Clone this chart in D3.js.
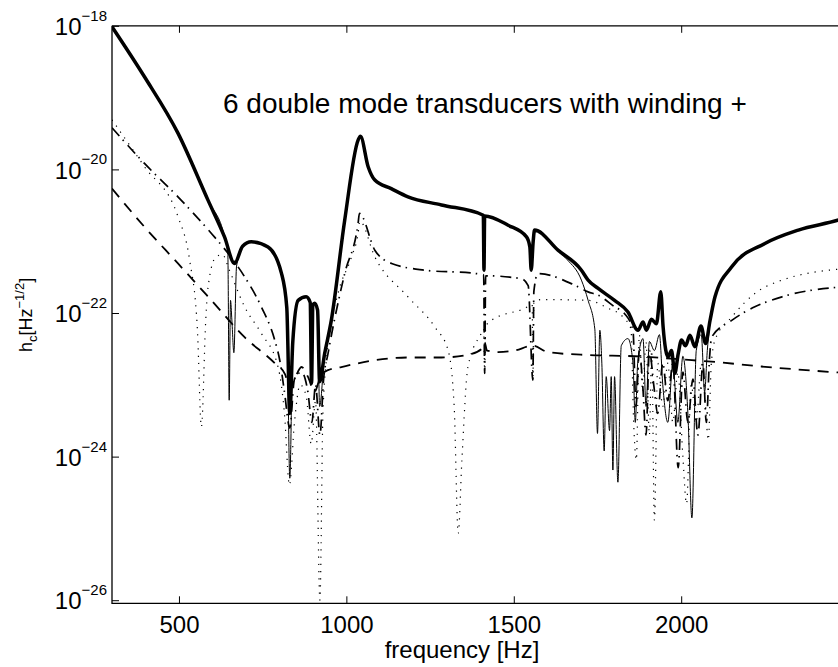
<!DOCTYPE html>
<html>
<head>
<meta charset="utf-8">
<script src="https://cdn.jsdelivr.net/npm/d3@7/dist/d3.min.js"></script>
<style>
  body { margin: 0; background: #fff; }
  svg text { font-family: "Liberation Sans", Arial, Helvetica, sans-serif; fill: #000; }
</style>
</head>
<body>
<script>
// thick solid: total
var totalF = [300, 397, 497, 587, 636, 666, 690, 716, 766, 806, 822, 831, 840, 856, 880, 892, 896, 900, 905, 914, 920, 935, 955, 995, 1035, 1042, 1065, 1085, 1134, 1184, 1284, 1409, 1411, 1413, 1483, 1538, 1548, 1552, 1558, 1562, 1632, 1702, 1722, 1752, 1801, 1841, 1871, 1886, 1896, 1911, 1926, 1939, 1946, 1961, 1971, 1981, 1991, 2001, 2013, 2026, 2041, 2059, 2073, 2086, 2101, 2151, 2250, 2350, 2474, 2500];
var totalV = [9.7e-19, 1.95e-19, 3.2e-20, 3.7e-21, 1.15e-21, 4.9e-22, 8.5e-22, 9.8e-22, 8.3e-22, 3.6e-22, 1.2e-22, 4e-24, 4e-23, 1.5e-22, 1.68e-22, 1.4e-22, 1.05e-23, 1.3e-22, 1.37e-22, 1.1e-22, 1.1e-23, 2.7e-23, 7.9e-23, 1.96e-21, 2.56e-20, 2.9e-20, 1.09e-20, 7.1e-21, 5.4e-21, 4.15e-21, 3.2e-21, 2.3e-21, 3.95e-22, 2.25e-21, 1.67e-21, 1.15e-21, 8.3e-22, 3.95e-22, 1.0e-21, 1.43e-21, 7.5e-22, 3.95e-22, 2.87e-22, 2.2e-22, 1.5e-22, 1.03e-22, 5.75e-23, 7.5e-23, 5.75e-23, 8.2e-23, 7.1e-23, 1.97e-22, 6.4e-23, 2.45e-23, 3.0e-23, 1.44e-23, 2.7e-23, 4.2e-23, 3.5e-23, 4.9e-23, 3.4e-23, 6.6e-23, 3.75e-23, 7.8e-23, 1.68e-22, 4.4e-22, 9.3e-22, 1.43e-21, 2.0e-21, 2.2e-21];

// thin solid
var thinF = [300, 397, 497, 587, 636, 646, 650, 654, 658, 664, 672, 690, 716, 766, 806, 822, 831, 840, 856, 880, 892, 896, 900, 905, 914, 920, 935, 955, 995, 1035, 1042, 1065, 1085, 1134, 1184, 1284, 1409, 1411, 1413, 1483, 1538, 1548, 1552, 1558, 1562, 1632, 1660, 1702, 1722, 1742, 1750, 1757, 1763, 1770, 1776, 1786, 1791, 1796, 1801, 1811, 1821, 1841, 1856, 1863, 1870, 1886, 1895, 1905, 1920, 1935, 1945, 1960, 1975, 1990, 2005, 2020, 2032, 2045, 2060, 2070, 2078, 2090, 2101, 2151, 2250, 2350, 2474, 2500];
var thinV = [9.7e-19, 1.95e-19, 3.2e-20, 3.7e-21, 1.15e-21, 6.5e-22, 6.1e-24, 1.5e-22, 8e-23, 2.8e-23, 4.5e-22, 8.3e-22, 9.8e-22, 8.3e-22, 3.6e-22, 1.2e-22, 5e-25, 4e-23, 1.5e-22, 1.68e-22, 1.4e-22, 1e-23, 1.3e-22, 1.37e-22, 1.1e-22, 5e-24, 2.7e-23, 7.9e-23, 1.96e-21, 2.56e-20, 2.9e-20, 1.09e-20, 7.1e-21, 5.4e-21, 4.15e-21, 3.2e-21, 2.3e-21, 3.95e-22, 2.25e-21, 1.67e-21, 1.15e-21, 8.3e-22, 3.95e-22, 1.0e-21, 1.43e-21, 7.3e-22, 5.5e-22, 2.87e-22, 1.5e-22, 6e-23, 2.1e-24, 5.75e-23, 2e-23, 1.2e-24, 1.3e-23, 2.3e-24, 1.3e-23, 6.5e-25, 1.3e-23, 4.4e-25, 3.5e-23, 4.4e-23, 2e-23, 3e-24, 2e-23, 4.4e-23, 5e-24, 4e-23, 3e-23, 5e-23, 1e-23, 3e-24, 2e-23, 3e-24, 2.5e-23, 4e-24, 1.4e-25, 3e-23, 5e-23, 8e-24, 3e-23, 1e-22, 1.68e-22, 4.4e-22, 9.3e-22, 1.43e-21, 2.0e-21, 2.2e-21];

// dashed
var dashF = [300, 397, 497, 597, 696, 786, 817, 830, 845, 866, 885, 905, 925, 945, 985, 1085, 1184, 1284, 1374, 1405, 1413, 1420, 1453, 1502, 1557, 1602, 1722, 1861, 2032, 2091, 2239, 2500];
var dashV = [5.4e-21, 1.58e-21, 4.9e-22, 1.5e-22, 4.6e-23, 2.0e-23, 1.4e-23, 9e-24, 1.2e-23, 1.77e-23, 1.3e-23, 8e-24, 1.4e-23, 1.6e-23, 1.77e-23, 2.2e-23, 2.4e-23, 2.4e-23, 2.7e-23, 3.2e-23, 3.9e-23, 3.0e-23, 2.85e-23, 3.0e-23, 3.5e-23, 2.85e-23, 2.6e-23, 2.5e-23, 2.2e-23, 2.1e-23, 1.8e-23, 1.45e-23];

// dash-dot
var dashDotF = [300, 397, 497, 597, 647, 696, 746, 786, 801, 815, 831, 845, 866, 885, 897, 908, 921, 932, 945, 995, 1035, 1039, 1085, 1135, 1234, 1383, 1410, 1413, 1416, 1523, 1543, 1557, 1560, 1572, 1682, 1722, 1752, 1801, 1831, 1856, 1865, 1875, 1885, 1895, 1905, 1918, 1930, 1945, 1960, 1975, 1991, 2005, 2020, 2035, 2050, 2065, 2075, 2085, 2091, 2151, 2220, 2301, 2500];
var dashDotV = [3.8e-20, 1.21e-20, 4.15e-21, 1.28e-21, 6.75e-22, 3.2e-22, 1.22e-22, 4.2e-23, 2.2e-23, 8e-24, 2.5e-24, 1.2e-23, 1.5e-23, 8e-24, 3e-24, 1e-23, 2e-24, 1.2e-23, 2.7e-23, 3.55e-22, 1.77e-21, 2.44e-21, 7.5e-22, 4.9e-22, 3.95e-22, 3.56e-22, 3.4e-22, 1.44e-23, 3.3e-22, 3.0e-22, 2.4e-22, 1.16e-23, 2e-22, 3.55e-22, 2.44e-22, 1.97e-22, 1.77e-22, 1.22e-22, 9.8e-23, 5.75e-23, 5e-24, 3e-23, 1e-23, 2e-24, 3e-23, 1e-23, 4e-24, 2e-23, 6e-24, 2e-23, 7e-25, 1.5e-23, 3e-24, 1.2e-23, 2e-24, 2e-23, 3e-24, 2.5e-23, 4.6e-23, 7.9e-23, 1.22e-22, 1.68e-22, 2.35e-22];

// dotted
var dotF = [300, 397, 497, 532, 555, 567, 580, 587, 610, 630, 650, 696, 746, 796, 815, 830, 845, 862, 880, 895, 908, 921, 930, 945, 975, 1015, 1035, 1040, 1085, 1184, 1264, 1304, 1322, 1334, 1345, 1363, 1403, 1410, 1413, 1416, 1433, 1533, 1555, 1557, 1560, 1582, 1722, 1782, 1826, 1850, 1858, 1866, 1875, 1885, 1895, 1905, 1912, 1920, 1930, 1945, 1960, 1975, 1990, 2005, 2016, 2030, 2045, 2060, 2070, 2081, 2090, 2101, 2151, 2220, 2301, 2500];
var dotV = [4.9e-20, 1.09e-20, 2.2e-21, 5.4e-22, 6e-23, 2.6e-24, 8e-23, 2.3e-22, 6e-22, 6.5e-22, 4e-22, 1.22e-22, 5.2e-23, 1.77e-23, 4e-24, 4e-25, 3e-24, 1e-23, 7e-24, 1.5e-24, 6e-24, 1e-26, 4e-24, 3.5e-23, 1.87e-22, 6e-22, 1.28e-21, 1.9e-21, 6.05e-22, 1.68e-22, 6.4e-23, 3.0e-23, 5e-24, 8.5e-26, 8.9e-25, 1.77e-23, 5.2e-23, 6e-23, 1.44e-23, 6.5e-23, 7.9e-23, 1.16e-22, 1.3e-22, 1.16e-23, 1.4e-22, 1.54e-22, 1.5e-22, 1.16e-22, 8.8e-23, 6e-23, 3e-24, 9e-25, 5e-23, 8e-24, 4e-23, 2e-24, 3e-23, 1.3e-25, 2e-23, 5e-24, 2e-23, 3e-24, 1.5e-23, 1e-24, 2.2e-25, 1e-23, 3e-24, 2e-23, 8e-24, 1.7e-24, 2e-23, 4.2e-23, 8.8e-23, 1.87e-22, 2.87e-22, 4.2e-22];

var xTicks = [500, 1000, 1500, 2000];
var yTicks = [1e-18, 1e-20, 1e-22, 1e-24, 1e-26];
var yExp = ['\u221218', '\u221220', '\u221222', '\u221224', '\u221226'];

var width = 838,
    height = 667,
    plot = { left: 112, right: 848.6, top: 25.8, bottom: 603.3 };

var svg = d3.select('body')
    .append('svg')
    .attr('width', width)
    .attr('height', height)

var xScale = d3.scaleLinear()
    .domain([300, 2500])
    .range([plot.left, plot.right])
var yScale = d3.scaleLog()
    .domain([Math.pow(10, -26.043), 1e-18])
    .range([plot.bottom, plot.top])

svg.append('clipPath').attr('id', 'clip')
    .append('rect')
    .attr('x', plot.left).attr('y', plot.top)
    .attr('width', plot.right - plot.left).attr('height', plot.bottom - plot.top)

var line = d3.line()
    .x(d => xScale(d[0]))
    .y(d => yScale(d[1]))
    .curve(d3.curveMonotoneX)

var g = svg.append('g').attr('clip-path', 'url(#clip)')

var series = [
    { f: dashF, v: dashV, w: 1.8, dash: '11,8' },
    { f: dashDotF, v: dashDotV, w: 1.7, dash: '11,5,1.5,6' },
    { f: dotF, v: dotV, w: 1.2, dash: '1.2,6' },
    { f: thinF, v: thinV, w: 1, dash: null },
    { f: totalF, v: totalV, w: 3.5, dash: null }
];

series.forEach(s => {
    g.append('path')
        .attr('d', line(d3.zip(s.f, s.v)))
        .attr('fill', 'none')
        .attr('stroke', '#000')
        .attr('stroke-width', s.w)
        .attr('stroke-linejoin', 'round')
        .attr('stroke-dasharray', s.dash)
})

// axes
var xAxis = d3.axisBottom(xScale)
    .tickValues(xTicks)
    .tickSizeInner(-7)
    .tickSizeOuter(0)
    .tickPadding(12.4)
    .tickFormat(d3.format('d'))
var xAxisTop = d3.axisTop(xScale)
    .tickValues(xTicks)
    .tickSizeInner(-7)
    .tickSizeOuter(0)
    .tickFormat('')
var yAxis = d3.axisLeft(yScale)
    .tickValues(yTicks)
    .tickSizeInner(-7)
    .tickSizeOuter(0)
    .tickPadding(5)

var gx = svg.append('g').attr('transform', `translate(0, ${plot.bottom})`).call(xAxis)
svg.append('g').attr('transform', `translate(0, ${plot.top})`).call(xAxisTop)
var gy = svg.append('g').attr('transform', `translate(${plot.left}, 0)`).call(yAxis)

svg.selectAll('.domain').remove()
svg.selectAll('.tick line').attr('stroke', '#000').attr('stroke-width', 1)

gx.selectAll('text')
    .attr('font-size', 24)
    .attr('font-family', '"Liberation Sans", Arial, sans-serif')

gy.selectAll('text').each(function(d, i) {
    var t = d3.select(this)
    t.text(null).attr('dy', null).attr('y', 8.7)
        .attr('font-family', '"Liberation Sans", Arial, sans-serif')
    t.append('tspan').attr('font-size', 24).text('10')
    t.append('tspan').attr('font-size', 15).attr('dy', -14.2).text(yExp[i])
})

// box
svg.append('path')
    .attr('d', `M${plot.left},${plot.top}H${plot.right + 10}M${plot.left},${plot.top}V${plot.bottom}H${plot.right + 10}`)
    .attr('fill', 'none')
    .attr('stroke', '#000')
    .attr('stroke-width', 1.3)

// labels
svg.append('text')
    .attr('x', 462).attr('y', 658)
    .attr('text-anchor', 'middle')
    .attr('font-size', 24)
    .text('frequency [Hz]')

var yl = svg.append('text')
    .attr('transform', 'translate(32, 352) rotate(-90)')
    .attr('font-size', 18)
yl.append('tspan').text('h')
yl.append('tspan').attr('font-size', 13).attr('dy', 5).text('c')
yl.append('tspan').attr('dy', -5).text('[Hz')
yl.append('tspan').attr('font-size', 13).attr('dy', -8).text('\u22121/2')
yl.append('tspan').attr('dy', 8).text(']')

svg.append('text')
    .attr('x', 223).attr('y', 113)
    .attr('font-size', 28)
    .text('6 double mode transducers with winding +')
</script>
</body>
</html>
